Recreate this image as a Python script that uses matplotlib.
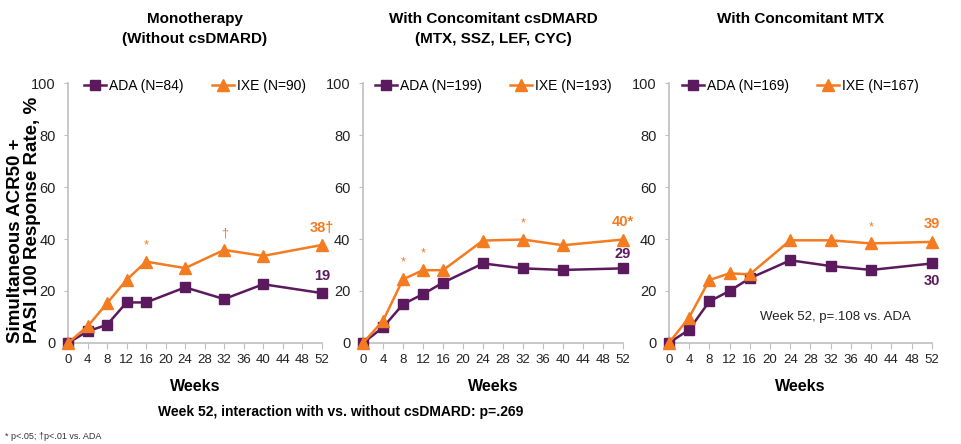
import matplotlib
matplotlib.use("Agg")
import matplotlib.pyplot as plt

plt.rcParams['font.family'] = ['Liberation Sans', 'DejaVu Sans']

# weeks and response rates (%)
weeks = [0, 4, 8, 12, 16, 24, 32, 40, 52]

mono_ada = [0, 4.5, 7, 15.6, 15.6, 21.4, 16.9, 22.6, 19.2]
mono_ixe = [0, 6.4, 15.3, 24.3, 31.3, 28.8, 35.8, 33.5, 37.7]
csd_ada = [0, 6, 14.9, 18.8, 23.2, 30.6, 28.7, 28.1, 28.7]
csd_ixe = [0, 8.5, 24.5, 28, 28, 39.4, 39.8, 37.6, 39.8]
mtx_ada = [0, 5.1, 16, 20, 24.9, 31.8, 29.6, 28.1, 30.6]
mtx_ixe = [0, 9.8, 24.2, 26.8, 26.4, 39.5, 39.5, 38.3, 38.9]

titles = ["Monotherapy\n(Without csDMARD)",
          "With Concomitant csDMARD\n(MTX, SSZ, LEF, CYC)",
          "With Concomitant MTX"]
n_ada = [84, 199, 169]
n_ixe = [90, 193, 167]
end_ada = ["19", "29", "30"]
end_ixe = ["38\u2020", "40*", "39"]
# significance marks above IXE points: (week, symbol)
sig_marks = [[(16, "*"), (32, "\u2020")],
             [(8, "*"), (12, "*"), (32, "*")],
             [(40, "*")]]

PURPLE = "#5B1A5E"
ORANGE = "#F47B20"
GRID = "#BFBFBF"

fig = plt.figure(figsize=(9.61, 4.44), dpi=100)
lefts = [0.0708, 0.3777, 0.696]
widths = [0.264, 0.2706, 0.2737]
series = [(mono_ada, mono_ixe), (csd_ada, csd_ixe), (mtx_ada, mtx_ixe)]

for i in range(3):
    ax = fig.add_axes([lefts[i], 0.2275, widths[i], 0.5855])
    ada, ixe = series[i]
    ax.plot(weeks, ada, color=PURPLE, marker="s", ms=7.5, lw=1.8,
            label="ADA (N=%d)" % n_ada[i], clip_on=False, zorder=3)
    ax.plot(weeks, ixe, color=ORANGE, marker="^", ms=9, lw=1.8,
            label="IXE (N=%d)" % n_ixe[i], clip_on=False, zorder=4)
    ax.set_xlim(0, 52)
    ax.set_ylim(0, 100)
    ax.set_xticks(range(0, 53, 4))
    ax.set_yticks(range(0, 101, 20))
    for s in ["top", "right"]:
        ax.spines[s].set_visible(False)
    for s in ["left", "bottom"]:
        ax.spines[s].set_color(GRID)
        ax.spines[s].set_linewidth(1.2)
    ax.tick_params(axis="x", colors=GRID, labelcolor="#222222", labelsize=9.5,
                   length=4, pad=4)
    ax.tick_params(axis="y", colors=GRID, labelcolor="#222222", labelsize=10.5,
                   length=3, pad=6)
    ax.set_xlabel("Weeks", fontsize=11.5, fontweight="bold", labelpad=9)
    fig.text(lefts[i] + widths[i] / 2, 1 - 12 / 444, titles[i], fontsize=11,
             fontweight="bold", ha="center", va="top", linespacing=1.5)
    ax.legend(loc="upper center", bbox_to_anchor=(0.5, 1.065), ncol=2,
              frameon=False, fontsize=10, handlelength=1.6, handletextpad=0.2,
              columnspacing=2.0)

    for w, sym in sig_marks[i]:
        ax.text(w, ixe[weeks.index(w)] + 4, sym, color=ORANGE, fontsize=9,
                ha="center", va="bottom")

    ax.text(52, ixe[-1] + 4, end_ixe[i], color=ORANGE, fontsize=10.5,
            fontweight="bold", ha="center", va="bottom")
    if i == 0:
        ax.text(52, ada[-1] + 4, end_ada[i], color=PURPLE, fontsize=10.5,
                fontweight="bold", ha="center", va="bottom")
    elif i == 1:
        ax.text(52, ada[-1] + 3, end_ada[i], color=PURPLE, fontsize=10.5,
                fontweight="bold", ha="center", va="bottom")
    else:
        ax.text(52, ada[-1] - 4, end_ada[i], color=PURPLE, fontsize=10.5,
                fontweight="bold", ha="center", va="top")

    if i == 2:
        ax.text(33, 10, "Week 52, p=.108 vs. ADA", fontsize=9.5,
                color="#222222", ha="center", va="center")

fig.text(24 / 961, 0.2275, "Simultaneous ACR50 +\nPASI 100 Response Rate, %",
         rotation=90, fontsize=13.5, fontweight="bold", ha="center",
         va="bottom", multialignment="left", linespacing=0.95)
fig.text(0.355, 0.072, "Week 52, interaction with vs. without csDMARD: p=.269",
         fontsize=10, fontweight="bold", ha="center", va="center")
fig.text(0.005, 0.018, "* p<.05; \u2020p<.01 vs. ADA", fontsize=6.5,
         ha="left", va="center", color="#333333")

fig.savefig("out.png", dpi=100)
